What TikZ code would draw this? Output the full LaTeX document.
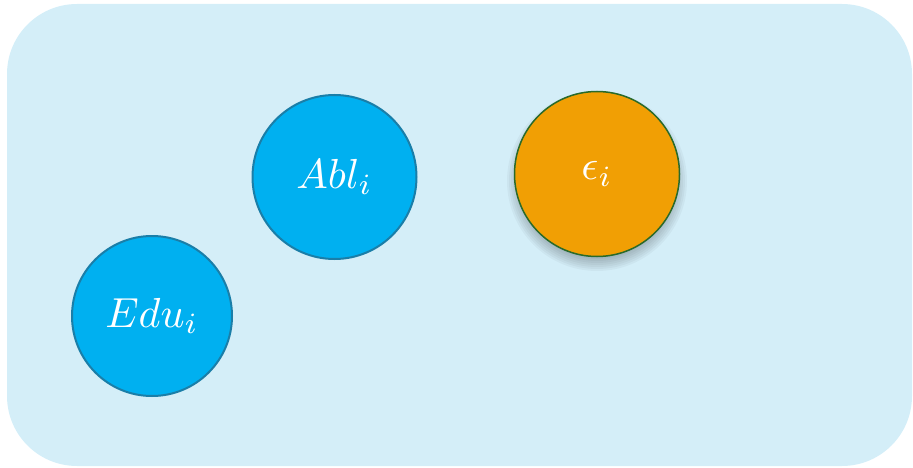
\documentclass[tikz,border=0pt]{standalone}
\usepackage{graphicx}
\definecolor{bgblue}{HTML}{D4EEF8}
\definecolor{nodeblue}{HTML}{00B0F0}
\definecolor{nodeblueborder}{HTML}{1A7EA8}
\definecolor{nodeorange}{HTML}{F19F04}
\definecolor{nodegreen}{HTML}{2A6A2A}
\newcommand{\bigmath}[1]{\scalebox{4.2}{$#1$}}
\tikzset{
  bluecirc/.style={circle, fill=nodeblue, draw=nodeblueborder, line width=2pt, inner sep=0pt, text=white},
  orangecirc/.style={circle, fill=nodeorange, draw=nodegreen, line width=1.5pt, inner sep=0pt, text=white},
  softshadow/.style={fill=black, fill opacity=0.035},
}
\begin{document}
\begin{tikzpicture}[x=1pt,y=-1pt]
\useasboundingbox (0,0) rectangle (913,468);
\fill[bgblue, rounded corners=70pt] (7,4) rectangle (912,466);
\node[bluecirc, minimum size=160pt] (edu) at (152,316) {\bigmath{Edu_i}};
\node[bluecirc, minimum size=164pt] (abl) at (334.5,177) {\bigmath{Abl_i}};
\coordinate (epsshadow) at (597,181);
\foreach \r in {90,88,...,74} {
  \fill[softshadow] (epsshadow) circle[radius=\r pt];
}
\node[orangecirc, minimum size=165pt] (eps) at (597,174) {\bigmath{\epsilon_i}};
\end{tikzpicture}
\end{document}
